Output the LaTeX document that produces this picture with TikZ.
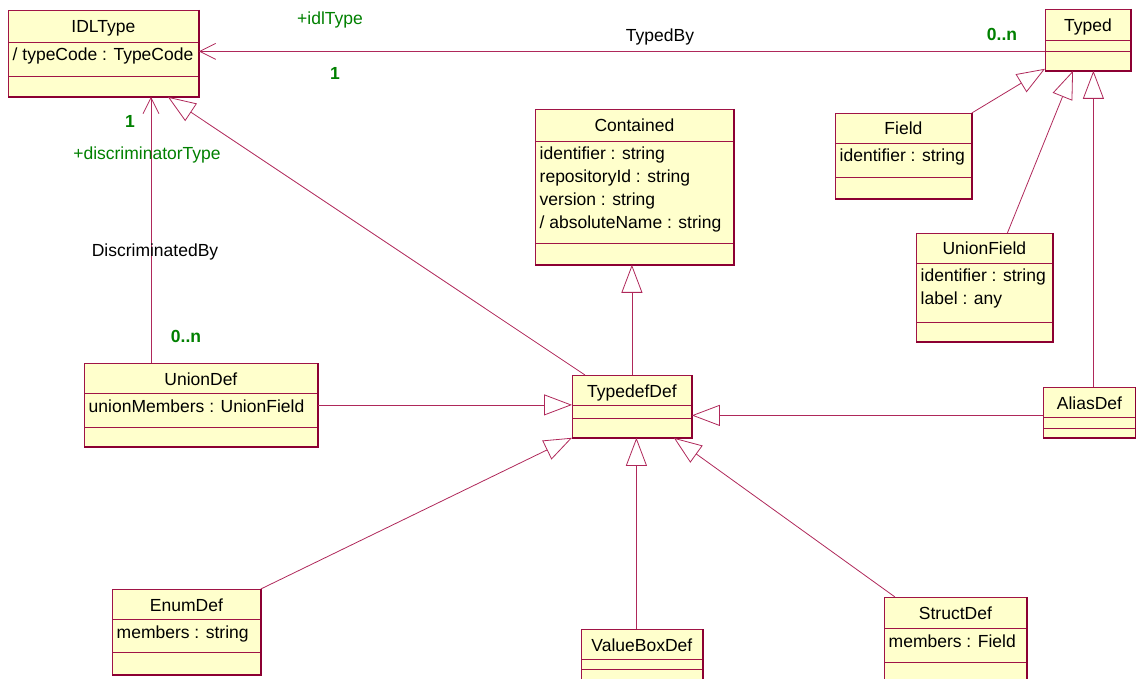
\documentclass[tikz,border=0pt]{standalone}
\usepackage{fontspec}
\setmainfont{Liberation Sans}
\usetikzlibrary{arrows.meta,calc}

\definecolor{umlred}{RGB}{160,20,70}
\definecolor{umldark}{RGB}{140,0,50}
\definecolor{umlfill}{RGB}{255,255,204}
\definecolor{umlline}{RGB}{175,40,90}
\definecolor{umlgreen}{RGB}{0,128,0}

\tikzset{
	classbox/.style={draw=umlred, fill=umlfill, line width=0.8pt, inner sep=0pt, anchor=north west},
	sepline/.style={draw=umlred, line width=0.7pt},
	edgeline/.style={draw=umldark, line width=1.6pt},
	classname/.style={font=\fontsize{17.5}{21}\selectfont, inner sep=0pt, anchor=base},
	attr/.style={font=\fontsize{17.5}{21}\selectfont, inner sep=0pt, anchor=base west},
	gen/.style={draw=umlline, line width=0.8pt, -{Triangle[open, length=28pt, width=21pt]}},
	assoc/.style={draw=umlline, line width=0.8pt, -{Straight Barb[length=16pt, width=16pt]}},
	role/.style={text=umlgreen, font=\fontsize{17.5}{21}\selectfont, inner sep=0pt, anchor=base},
	mult/.style={text=umlgreen, font=\fontsize{17.5}{21}\selectfont\bfseries, inner sep=0pt, anchor=base},
	assocname/.style={font=\fontsize{17.5}{21}\selectfont, inner sep=0pt, anchor=base}
}

% name, top left, width, height, first line, second line, title, attributes
\newcommand{\umlclass}[8]{%
	\node[classbox, minimum width=#3pt, minimum height=#4pt] (#1) at (#2) {};
	\draw[sepline] ([yshift=-#5pt]#1.north west) -- ([yshift=-#5pt]#1.north east);
	\draw[sepline] ([yshift=-#6pt]#1.north west) -- ([yshift=-#6pt]#1.north east);
	\draw[edgeline] (#1.north east) -- (#1.south east) -- (#1.south west);
	\node[classname] (#1-name) at ([yshift={-#5pt/2-7pt}]#1.north) {#7};
	\foreach \fld [count=\i] in {#8}
		\node[attr] (#1-a\i) at ([xshift=4.5pt, yshift={-#5pt-19pt-(\i-1)*23pt}]#1.north west) {\fld};
}

\begin{document}
\begin{tikzpicture}[x=1pt, y=-1pt]
	%%%%% START %%%%%
	\useasboundingbox (0,0) rectangle (1136,679);
	
	\umlclass{idl}{8,10}{190}{86}{32}{66}{IDLType}{/ typeCode : TypeCode}
	\umlclass{typed}{1045,9}{85}{61}{31}{42}{Typed}{}
	\umlclass{field}{835,113}{136}{85}{30}{64}{Field}{identifier : string}
	\umlclass{contained}{535,109}{198}{155}{32}{134}{Contained}{identifier : string, repositoryId : string, version : string, / absoluteName : string}
	\umlclass{unionfield}{916,233}{136}{108}{30}{89}{UnionField}{identifier : string, label : any}
	\umlclass{aliasdef}{1043,387}{92}{50}{30}{41}{AliasDef}{}
	\umlclass{uniondef}{84,363}{233}{83}{30}{64}{UnionDef}{unionMembers : UnionField}
	\umlclass{typedefdef}{572,375}{119}{62}{30}{43}{TypedefDef}{}
	\umlclass{enumdef}{112,589}{148}{85}{30}{63}{EnumDef}{members : string}
	\umlclass{valuebox}{581,629}{121}{60}{30}{40}{ValueBoxDef}{}
	\umlclass{structdef}{884,597}{142}{90}{31}{65}{StructDef}{members : Field}
	
	% TypedBy
	\path (idl.east) ++(0,-2) coordinate (idlin);
	\draw[assoc] (typed.west |- idlin) -- (idlin);
	\node[role] (r-idl) at (330,25) {+idlType};
	\node[assocname] (n-typedby) at (660,42) {TypedBy};
	\node[mult] (m-idl) at (335,80) {1};
	\node[mult] (m-typed) at (1002,41) {0..n};
	
	% DiscriminatedBy
	\coordinate (udtop) at ([xshift=67pt]uniondef.north west);
	\draw[assoc] (udtop) -- (udtop |- idl.south);
	\node[mult] (m-disc) at (130,128) {1};
	\node[role] (r-disc) at (147,160) {+discriminatorType};
	\node[assocname] (n-discby) at (155,257) {DiscriminatedBy};
	\node[mult] (m-union) at (186,342) {0..n};
	
	% generalisations
	\draw[gen] ([xshift=13pt]typedefdef.north west) -- ([xshift=-31pt]idl.south east);
	\draw[gen] (typedefdef.north) -- (typedefdef.north |- contained.south);
	\draw[gen] (uniondef.east) -- (uniondef.east -| typedefdef.west);
	\draw[gen] ([yshift=-3pt]aliasdef.west) -- ([yshift=-3pt]aliasdef.west -| typedefdef.east);
	\draw[gen] (enumdef.north east) -- (typedefdef.south west);
	\coordinate (vbtop) at ([xshift=-5.5pt]valuebox.north);
	\draw[gen] (vbtop) -- (vbtop |- typedefdef.south);
	\draw[gen] ([xshift=11pt]structdef.north west) -- ([xshift=-18pt]typedefdef.south east);
	
	\draw[gen] (field.north east) -- ([yshift=2pt]typed.south west);
	\draw[gen] ([xshift=23pt]unionfield.north) -- ([xshift=28pt]typed.south west);
	\coordinate (adtop) at ([xshift=4pt]aliasdef.north);
	\draw[gen] (adtop) -- (adtop |- typed.south);
	
	%%%%% END %%%%%
\end{tikzpicture}
\end{document}
